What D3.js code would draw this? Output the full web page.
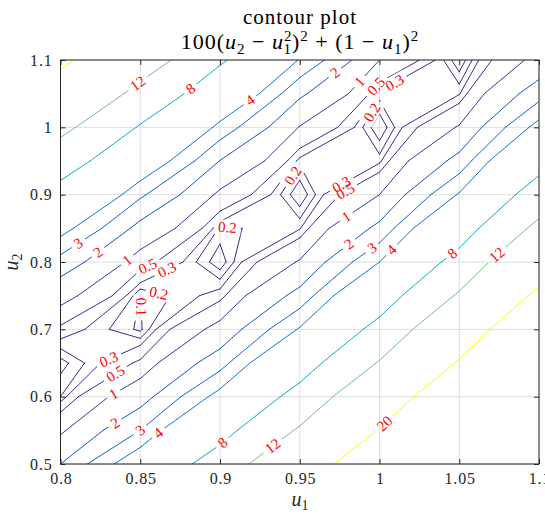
<!DOCTYPE html>
<html><head><meta charset="utf-8">
<script src="https://cdn.jsdelivr.net/npm/d3@7"></script>
<style>body{margin:0;background:#fff}svg{display:block}
svg text{font-family:"Liberation Serif","DejaVu Serif",serif}</style>
</head><body><svg id="c" width="545" height="516"></svg>
<script>
// ---- data ----
const u1Grid = [0.8, 0.85, 0.9, 0.95, 1.0, 1.05, 1.1];
const u2Grid = [0.5, 0.55, 0.6, 0.65, 0.7, 0.75, 0.8, 0.85, 0.9, 0.95, 1.0, 1.05, 1.1];
// zRows[j][i] = value at (u1Grid[i], u2Grid[j])
const zRows = [
  [2.00, 4.973125, 9.62, 16.203125, 25, 36.303125, 50.42],
  [0.85, 2.998125, 6.77, 12.428125, 20.25, 30.528125, 43.57],
  [0.20, 1.523125, 4.42, 9.153125, 16, 25.253125, 37.22],
  [0.05, 0.548125, 2.57, 6.378125, 12.25, 20.478125, 31.37],
  [0.40, 0.073125, 1.22, 4.103125, 9, 16.203125, 26.02],
  [1.25, 0.098125, 0.37, 2.328125, 6.25, 12.428125, 21.17],
  [2.60, 0.623125, 0.02, 1.053125, 4, 9.153125, 16.82],
  [4.45, 1.648125, 0.17, 0.278125, 2.25, 6.378125, 12.97],
  [6.80, 3.173125, 0.82, 0.003125, 1, 4.103125, 9.62],
  [9.65, 5.198125, 1.97, 0.228125, 0.25, 2.328125, 6.77],
  [13.00, 7.723125, 3.62, 0.953125, 0, 1.053125, 4.42],
  [16.85, 10.748125, 5.77, 2.178125, 0.25, 0.278125, 2.57],
  [21.20, 14.273125, 8.42, 3.903125, 1, 0.003125, 1.22]
];
const levels = [0.1, 0.2, 0.3, 0.5, 1, 2, 3, 4, 8, 12, 20];
const xTicks = [0.8, 0.85, 0.9, 0.95, 1.0, 1.05, 1.1];
const xTickLabels = ["0.8", "0.85", "0.9", "0.95", "1", "1.05", "1.1"];
const yTicks = [0.5, 0.6, 0.7, 0.8, 0.9, 1.0, 1.1];
const yTickLabels = ["0.5", "0.6", "0.7", "0.8", "0.9", "1", "1.1"];
// contour label anchors (approximate, snapped to the contour of that level)
const labelLevels = [12, 8, 4, 2, 1, 0.5, 0.3, 0.2, 0.2, 0.3, 0.5, 3, 2, 1, 0.5, 0.3, 0.2, 0.2, 0.1, 1, 2, 3, 4, 8, 12, 0.3, 0.5, 1, 2, 3, 4, 8, 12, 20];
const labelU1 = [0.8498, 0.8812, 0.9188, 0.9721, 0.9865, 0.9984, 1.0085, 0.9959, 0.947, 0.9753, 0.9778, 0.811, 0.8235, 0.8417, 0.8549, 0.8668, 0.9044, 0.8611, 0.8498, 0.9784, 0.9803, 0.9953, 1.0078, 1.0455, 1.0737, 0.831, 0.8342, 0.8323, 0.8342, 0.8486, 0.8624, 0.9012, 0.9326, 1.0022];
const labelU2 = [1.0703, 1.0584, 1.0406, 1.0807, 1.0703, 1.0599, 1.0703, 1.0212, 0.9262, 0.9188, 0.901, 0.8282, 0.8148, 0.8029, 0.7926, 0.7881, 0.8445, 0.748, 0.7331, 0.8698, 0.8282, 0.8208, 0.8178, 0.8133, 0.8104, 0.6515, 0.6351, 0.6025, 0.5609, 0.5505, 0.5475, 0.5327, 0.5282, 0.5579];
const parulaStops = ["#352a87", "#0f5cdd", "#1481d6", "#06a4ca", "#2eb7a4", "#87bf77", "#d1bb59", "#fec832", "#f9fb0e"];

// ---- setup ----
const svg = d3.select("#c");
const x = d3.scaleLinear().domain([0.8, 1.1]).range([60.5, 539]);
const y = d3.scaleLinear().domain([0.5, 1.1]).range([464, 60]);
const colorT = d3.scaleLinear().domain(d3.range(parulaStops.length).map(i => i / (parulaStops.length - 1))).range(parulaStops).interpolate(d3.interpolateRgb);
const levelColor = L => colorT((L - levels[0]) / (levels[levels.length - 1] - levels[0]));

svg.append("rect").attr("width", 545).attr("height", 516).attr("fill", "#fff");

// grid
const grid = svg.append("g").attr("stroke", "#dedede").attr("stroke-width", 1);
xTicks.forEach(t => grid.append("line").attr("x1", x(t)).attr("x2", x(t)).attr("y1", y(0.5)).attr("y2", y(1.1)));
yTicks.forEach(t => grid.append("line").attr("y1", y(t)).attr("y2", y(t)).attr("x1", x(0.8)).attr("x2", x(1.1)));

// ---- marching squares ----
function isoSegments(L) {
  const segs = [];
  const nx = u1Grid.length, ny = u2Grid.length;
  const interp = (p, q, zp, zq) => {
    const t = (L - zp) / (zq - zp);
    return [p[0] + t * (q[0] - p[0]), p[1] + t * (q[1] - p[1])];
  };
  for (let j = 0; j < ny - 1; j++) {
    for (let i = 0; i < nx - 1; i++) {
      const P = [[u1Grid[i], u2Grid[j]], [u1Grid[i + 1], u2Grid[j]], [u1Grid[i + 1], u2Grid[j + 1]], [u1Grid[i], u2Grid[j + 1]]];
      const Z = [zRows[j][i], zRows[j][i + 1], zRows[j + 1][i + 1], zRows[j + 1][i]];
      const A = Z.map(v => v >= L);
      const e = [];
      for (let k = 0; k < 4; k++) {
        const k2 = (k + 1) % 4;
        e.push(A[k] !== A[k2] ? interp(P[k], P[k2], Z[k], Z[k2]) : null);
      }
      const pts = e.map((p, k) => p ? k : -1).filter(k => k >= 0);
      if (pts.length === 2) segs.push([e[pts[0]], e[pts[1]]]);
      else if (pts.length === 4) {
        const c = (Z[0] + Z[1] + Z[2] + Z[3]) / 4 >= L;
        if (A[0] === c) { segs.push([e[0], e[1]]); segs.push([e[2], e[3]]); }
        else { segs.push([e[3], e[0]]); segs.push([e[1], e[2]]); }
      }
    }
  }
  return segs.map(s => s.map(p => [x(p[0]), y(p[1])]));
}
const segByLevel = new Map(levels.map(L => [L, isoSegments(L)]));

// ---- labels (snap to nearest contour point) ----
const labelFs = 15;
const labels = labelLevels.map((L, k) => {
  const px = x(labelU1[k]), py = y(labelU2[k]);
  let best = null;
  segByLevel.get(L).forEach(s => {
    const [a, b] = s;
    const dx = b[0] - a[0], dy = b[1] - a[1];
    const len2 = dx * dx + dy * dy || 1e-9;
    let t = ((px - a[0]) * dx + (py - a[1]) * dy) / len2;
    t = Math.max(0.15, Math.min(0.85, t));
    const qx = a[0] + t * dx, qy = a[1] + t * dy;
    const d = (qx - px) ** 2 + (qy - py) ** 2;
    if (!best || d < best.d) {
      let ang = Math.atan2(dy, dx) * 180 / Math.PI;
      if (ang > 90) ang -= 180;
      if (ang < -90) ang += 180;
      best = { d, x: qx, y: qy, ang };
    }
  });
  return { L, text: String(L), x: best.x, y: best.y, ang: best.ang };
});

const defs = svg.append("defs");
const gapMask = defs.append("mask").attr("id", "gaps").attr("maskUnits", "userSpaceOnUse")
  .attr("x", 0).attr("y", 0).attr("width", 545).attr("height", 516);
gapMask.append("rect").attr("width", 545).attr("height", 516).attr("fill", "#fff");
defs.append("clipPath").attr("id", "plotclip").append("rect")
  .attr("x", x(0.8)).attr("y", y(1.1)).attr("width", x(1.1) - x(0.8)).attr("height", y(0.5) - y(1.1));

// contour lines
const lineG = svg.append("g").attr("mask", "url(#gaps)").attr("clip-path", "url(#plotclip)");
levels.forEach(L => {
  const segs = segByLevel.get(L);
  const d = segs.map(s => `M${s[0][0]},${s[0][1]}L${s[1][0]},${s[1][1]}`).join("");
  lineG.append("path").attr("d", d).attr("fill", "none").attr("stroke", levelColor(L))
    .attr("stroke-width", 1).attr("stroke-linecap", "round");
});

// axes box and ticks
const axG = svg.append("g").attr("font-size", 16).attr("fill", "#262626");
const axBottom = axG.append("g").attr("transform", `translate(0,${y(0.5)})`)
  .call(d3.axisBottom(x).tickValues(xTicks).tickFormat((d, i) => xTickLabels[i]).tickSizeInner(-5).tickSizeOuter(0).tickPadding(9));
const axLeft = axG.append("g").attr("transform", `translate(${x(0.8)},0)`)
  .call(d3.axisLeft(y).tickValues(yTicks).tickFormat((d, i) => yTickLabels[i]).tickSizeInner(-5).tickSizeOuter(0).tickPadding(8));
const axTop = axG.append("g").attr("transform", `translate(0,${y(1.1)})`)
  .call(d3.axisTop(x).tickValues(xTicks).tickFormat("").tickSizeInner(-5).tickSizeOuter(0));
const axRight = axG.append("g").attr("transform", `translate(${x(1.1)},0)`)
  .call(d3.axisRight(y).tickValues(yTicks).tickFormat("").tickSizeInner(-5).tickSizeOuter(0));
[axBottom, axLeft, axTop, axRight].forEach(g => {
  g.select(".domain").remove();
  g.attr("font-family", null);
  g.selectAll("text").attr("font-size", 16).attr("fill", "#262626").attr("letter-spacing", 0.8);
  g.selectAll("line").attr("stroke", "#262626");
});
axBottom.selectAll("text").attr("dx", 0.4);
axG.append("rect").attr("x", x(0.8)).attr("y", y(1.1)).attr("width", x(1.1) - x(0.8)).attr("height", y(0.5) - y(1.1))
  .attr("fill", "none").attr("stroke", "#262626").attr("stroke-width", 1);

// contour labels
const labG = svg.append("g").attr("font-size", labelFs).attr("fill", "#ff0000");
labels.forEach(l => {
  const t = labG.append("text").attr("text-anchor", "middle").attr("dominant-baseline", "central")
    .attr("transform", `translate(${l.x},${l.y}) rotate(${l.ang})`).text(l.text);
  const w = t.node().getComputedTextLength();
  gapMask.append("rect").attr("x", -w / 2 - 4).attr("y", -labelFs * 0.5).attr("width", w + 8).attr("height", labelFs)
    .attr("fill", "#000").attr("transform", `translate(${l.x},${l.y}) rotate(${l.ang})`);
});

// title
const tg = svg.append("g").attr("fill", "#000");
tg.append("text").attr("x", 300).attr("y", 24).attr("text-anchor", "middle").attr("font-size", 21)
  .attr("letter-spacing", 1).text("contour plot");
const formula = tg.append("text").attr("x", 300).attr("y", 49).attr("text-anchor", "middle").attr("font-size", 22)
  .attr("letter-spacing", 1);
const parts = [
  ["100(", {}], ["u", { it: 1 }], ["2", { s: 1, dy: 5 }], [" − ", { dy: -5 }], ["u", { it: 1 }],
  ["2", { s: 1, dy: -8 }], ["1", { s: 1, dx: -9, dy: 13 }], [")", { dy: -5 }], ["2", { s: 1, dy: -8 }],
  [" + (1 − ", { dy: 8 }], ["u", { it: 1 }], ["1", { s: 1, dy: 5 }], [")", { dy: -5 }], ["2", { s: 1, dy: -8 }]
];
parts.forEach(([txt, o]) => {
  const ts = formula.append("tspan").text(txt);
  if (o.it) ts.attr("font-style", "italic");
  if (o.s) ts.attr("font-size", 15);
  if (o.dy) ts.attr("dy", o.dy);
  if (o.dx) ts.attr("dx", o.dx);
});

// axis labels
const xl = svg.append("text").attr("x", 300).attr("y", 506).attr("text-anchor", "middle")
  .attr("font-size", 20).attr("fill", "#262626");
xl.append("tspan").attr("font-style", "italic").text("u");
xl.append("tspan").attr("font-size", 14).attr("dy", 4).text("1");
const yl = svg.append("text").attr("transform", `translate(18,${y(0.8)}) rotate(-90)`).attr("text-anchor", "middle")
  .attr("font-size", 20).attr("fill", "#262626");
yl.append("tspan").attr("font-style", "italic").text("u");
yl.append("tspan").attr("font-size", 14).attr("dy", 4).text("2");
</script>
</body></html>
